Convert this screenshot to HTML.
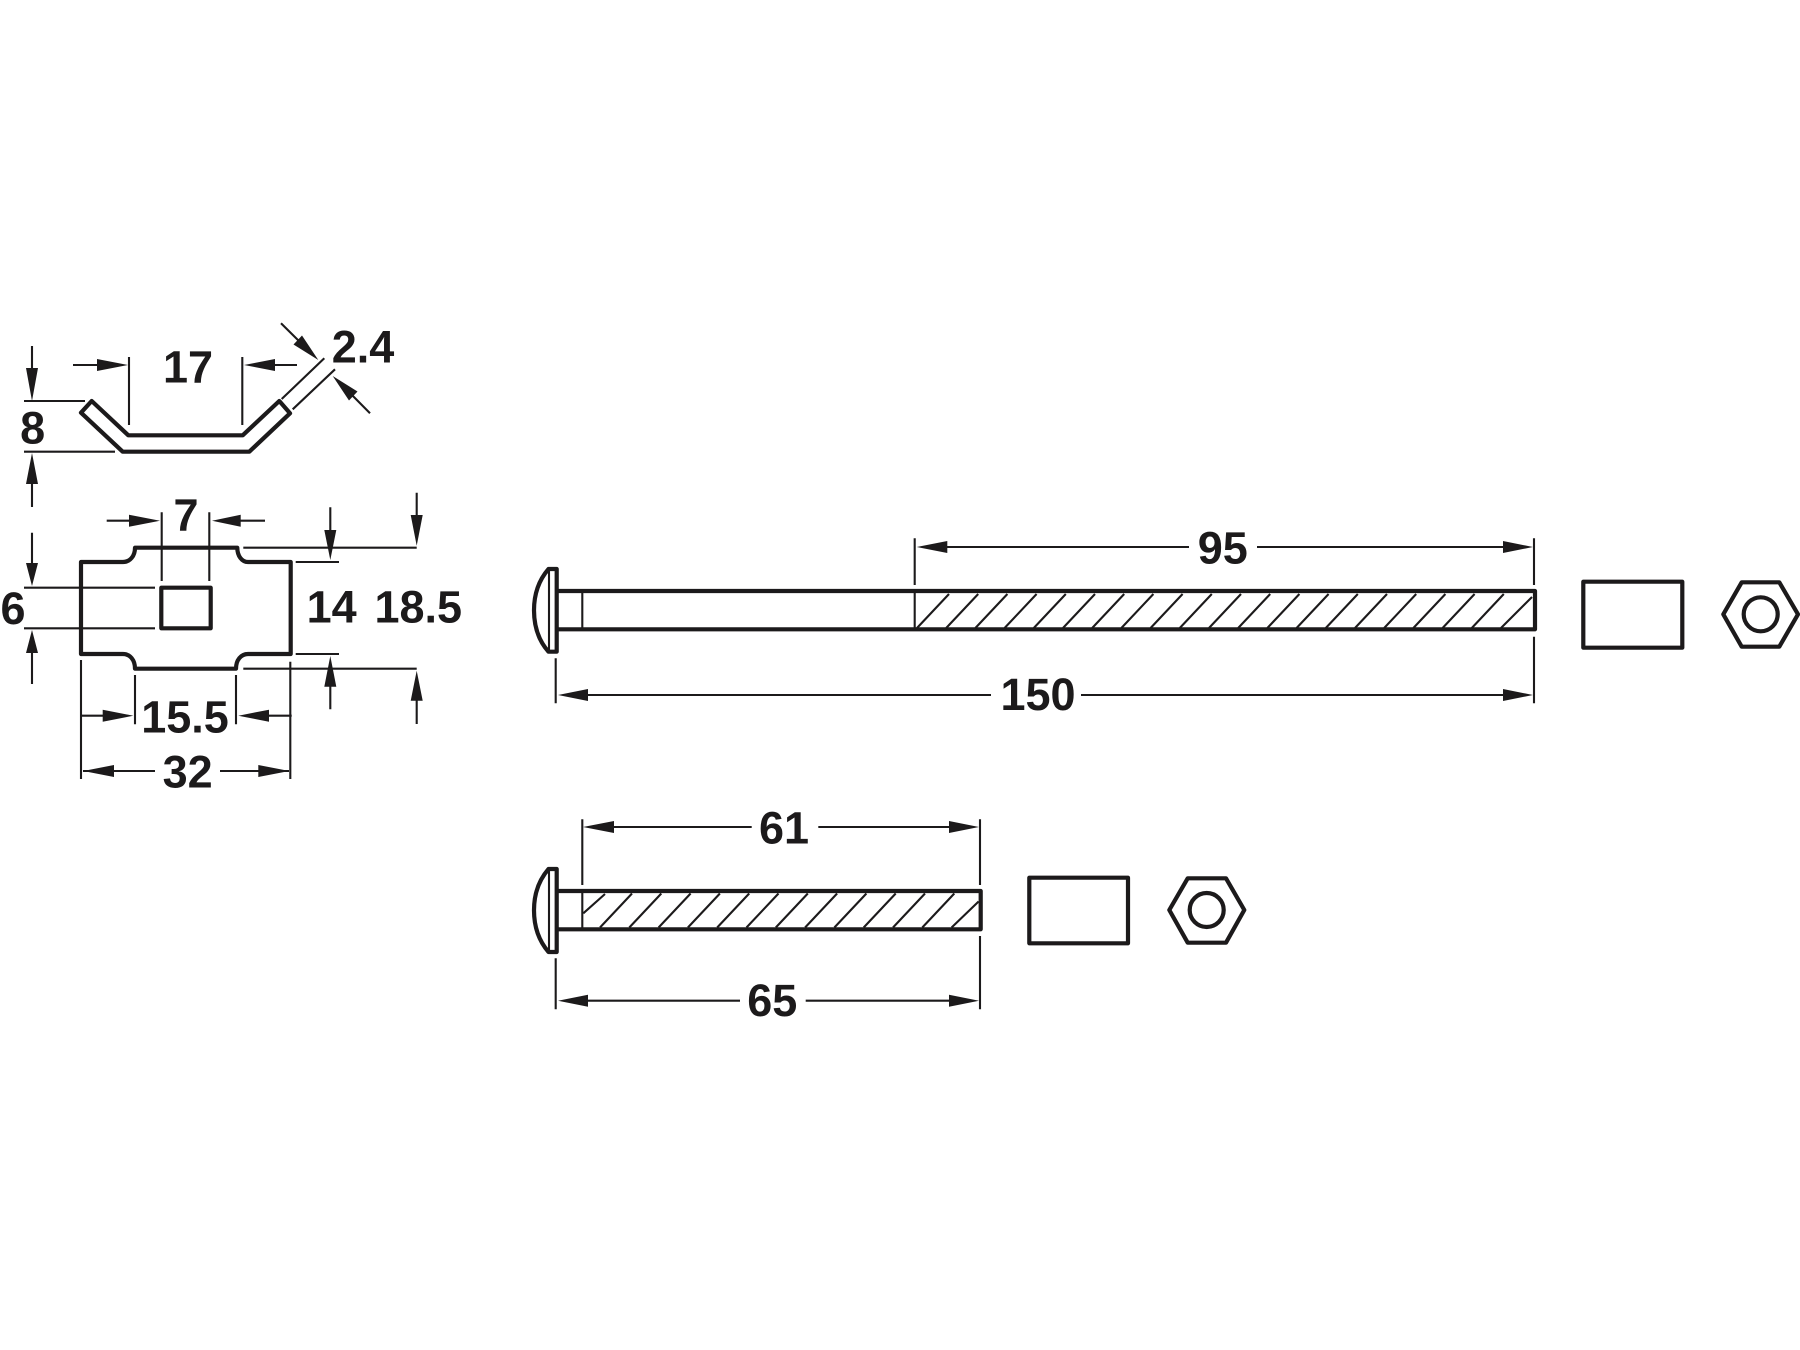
<!DOCTYPE html>
<html><head><meta charset="utf-8"><style>
html,body{margin:0;padding:0;background:#fff}
svg{display:block;filter:blur(.35px)}
text{font-family:"Liberation Sans",Arial,sans-serif;font-weight:700;font-size:45px;fill:#1c1a1b;text-anchor:middle}
.t{fill:none;stroke:#1c1a1b;stroke-width:2.1}
.k{fill:none;stroke:#1c1a1b;stroke-width:4.2;stroke-linejoin:round}
.h{fill:#1c1a1b;stroke:none}
</style></head><body>
<svg width="1800" height="1350" viewBox="0 0 1800 1350" xmlns="http://www.w3.org/2000/svg">
<rect width="1800" height="1350" fill="#fff"/>
<!-- profile -->
<path class="k" d="M91.7,401 L81,412.7 L122.7,451.7 H249.3 L290,413.3 L279.3,401 L242.7,435.3 H128.3 Z"/>
<path class="t" d="M24,401H85M24,451.7H115M32,346V380M32,507V470M129,357V425M242.3,357V425M73,365H110M297,365H260M281.7,399L324.3,358.3M292.7,409.3L335,369.3M281,323.3L305,347M370,413.3L347,390"/>
<path class="h" d="M32,401L26,368H38ZM32,453L26,484H38ZM128,365L97,359V371ZM244,365L275,359V371ZM318.3,360L293.5,344.5L302,335.5ZM332.7,376L357.5,391.5L349,400.5Z"/>
<text x="188" y="382.3">17</text><text x="363" y="362.3">2.4</text><text x="32.7" y="443.3">8</text>
<!-- plate -->
<path class="k" d="M81,562H123C130,562 135,556 135,547.7H237.3C237.3,556 242,562 248,562H290.7V654H248C241,654 236,660 236,668.7H135C135,660 130,654 123,654H81Z"/>
<rect class="k" x="161.3" y="587.7" width="49.4" height="40.6"/>
<path class="t" d="M161.7,512.3V581M209.3,512.3V581M106.7,520.7H140M265,520.7H230M24,587.7H155M24,628.3H155M32,532.7V570M32,684V645M295.7,562H339M295.7,654H339M330.3,507.3V540M330.3,709.3V675M243.3,547.7H416.7M243.3,668.7H416.7M416.7,492.7V525M416.7,724V690M135,675V724.3M236,675V724.3M81,660V779M290.3,661.7V779M81,715.7H115M291.7,715.7H255M83,771H155M220,771H289"/>
<path class="h" d="M160,520.7L129,514.7V526.7ZM212,520.7L240.7,514.7V526.7ZM32,586L26,563H38ZM32,630L26,653H38ZM330.3,560L324.3,530H336.3ZM330.3,656L324.3,686.7H336.3ZM416.7,545.7L410.7,515H422.7ZM416.7,670.7L410.7,700.7H422.7ZM133.3,715.7L102.7,709.7V721.7ZM238.3,715.7L269,709.7V721.7ZM83.3,771L114,765V777ZM289.3,771L258.3,765V777Z"/>
<text x="186" y="530.7">7</text><text x="13" y="624">6</text><text x="331.7" y="622.3">14</text><text x="418.3" y="622.3">18.5</text><text x="185" y="732.7">15.5</text><text x="187.7" y="787.3">32</text>
<!-- bolt 1 -->
<path class="k" d="M548.5,569H556.7V651.7H548.5C539,641 534,627 534,610.3C534,594 539,580 548.5,569Z"/>
<path class="t" d="M549,570V651"/>
<path class="k" d="M556.7,591H1535V629.3H556.7"/>
<path class="t" d="M582.3,591V629M914.7,591V629M914.7,538.3V585M1534,538.3V585M1534,636.7V703.3M555.7,658.3V703.3M947,547H1189M1257,547H1505M588,695H991M1081,695H1505"/>
<path class="h" d="M916.7,547L947.3,541V553ZM1533,547L1503,541V553ZM558,695L588,689V701ZM1533,695L1503,689V701Z"/>
<path class="t" d="M917,628l32,-34M946.2,628l32,-34M975.4,628l32,-34M1004.6,628l32,-34M1033.8,628l32,-34M1063,628l32,-34M1092.2,628l32,-34M1121.4,628l32,-34M1150.6,628l32,-34M1179.8,628l32,-34M1209,628l32,-34M1238.2,628l32,-34M1267.4,628l32,-34M1296.6,628l32,-34M1325.8,628l32,-34M1355,628l32,-34M1384.2,628l32,-34M1413.4,628l32,-34M1442.6,628l32,-34M1471.8,628l32,-34M1501,628l31,-31"/>
<text x="1222.8" y="563.7">95</text><text x="1038" y="710">150</text>
<rect class="k" x="1583.3" y="581.7" width="99" height="66"/>
<path class="k" d="M1723.3,614.3L1741.7,582.3H1779.3L1798,614.3L1779.3,646.7H1741.7Z"/>
<circle class="k" cx="1760.7" cy="614.3" r="17"/>
<!-- bolt 2 -->
<path class="k" d="M548.5,869H556.7V952H548.5C539,941 534,927 534,910.3C534,894 539,880 548.5,869Z"/>
<path class="t" d="M549,870V951"/>
<path class="k" d="M556.7,891H980.7V929.3H556.7"/>
<path class="t" d="M582.3,891V929M582.3,819.3V885M980,819.3V885M980,936V1009.3M555.7,958.3V1009.3M610,827H751.7M818.3,827H950M585,1000.7H740M805.7,1000.7H950"/>
<path class="h" d="M583,827L614,821V833ZM979,827L949,821V833ZM558,1000.7L588,994.7V1006.7ZM979,1000.7L949,994.7V1006.7Z"/>
<path class="t" d="M583.3,913.3L605,894M600,927.5l32,-34M629.3,927.5l32,-34M658.6,927.5l32,-34M687.9,927.5l32,-34M717.2,927.5l32,-34M746.5,927.5l32,-34M775.8,927.5l32,-34M805.1,927.5l32,-34M834.4,927.5l32,-34M863.7,927.5l32,-34M893,927.5l32,-34M922.3,927.5l32,-34M951.6,927.5l27,-26"/>
<text x="784" y="843.3">61</text><text x="772.3" y="1016">65</text>
<rect class="k" x="1029.3" y="877.7" width="98.7" height="65.6"/>
<path class="k" d="M1169.3,910L1187.7,878.3H1226L1244.3,910L1226,942.7H1187.7Z"/>
<circle class="k" cx="1206.7" cy="910" r="17"/>
</svg>
</body></html>
